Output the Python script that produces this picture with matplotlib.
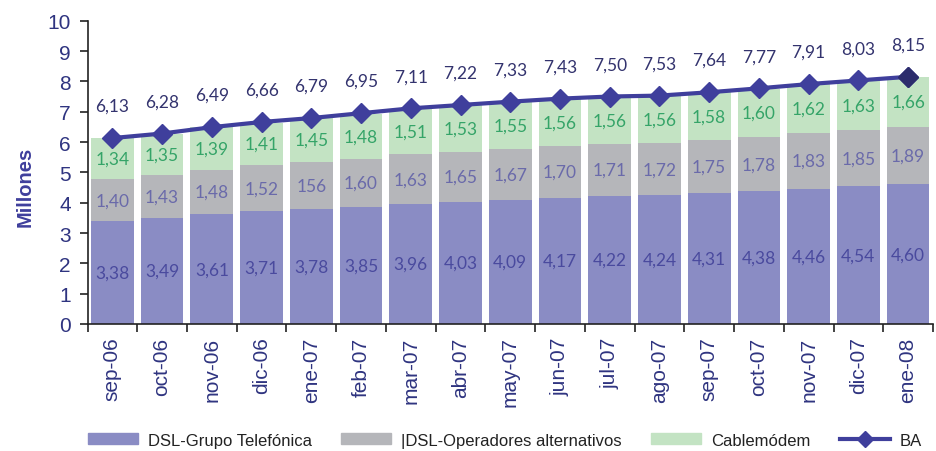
import matplotlib
matplotlib.use("Agg")
import matplotlib.pyplot as plt
import numpy as np
from matplotlib.lines import Line2D
from matplotlib.patches import Patch

categories = ["sep-06", "oct-06", "nov-06", "dic-06", "ene-07", "feb-07", "mar-07",
              "abr-07", "may-07", "jun-07", "jul-07", "ago-07", "sep-07", "oct-07",
              "nov-07", "dic-07", "ene-08"]
dsl_telefonica = [3.38, 3.49, 3.61, 3.71, 3.78, 3.85, 3.96, 4.03, 4.09, 4.17, 4.22,
                  4.24, 4.31, 4.38, 4.46, 4.54, 4.60]
dsl_alternativos = [1.40, 1.43, 1.48, 1.52, 1.56, 1.60, 1.63, 1.65, 1.67, 1.70, 1.71,
                    1.72, 1.75, 1.78, 1.83, 1.85, 1.89]
cablemodem = [1.34, 1.35, 1.39, 1.41, 1.45, 1.48, 1.51, 1.53, 1.55, 1.56, 1.56,
              1.56, 1.58, 1.60, 1.62, 1.63, 1.66]
ba = [6.13, 6.28, 6.49, 6.66, 6.79, 6.95, 7.11, 7.22, 7.33, 7.43, 7.50, 7.53, 7.64,
      7.77, 7.91, 8.03, 8.15]
# labels as printed in the original (note "156")
alt_labels = ["1,40", "1,43", "1,48", "1,52", "156", "1,60", "1,63", "1,65", "1,67",
              "1,70", "1,71", "1,72", "1,75", "1,78", "1,83", "1,85", "1,89"]
series_names = ["DSL-Grupo Telefónica", "|DSL-Operadores alternativos", "Cablemódem", "BA"]
yticks = list(range(0, 11))

C_BLUE = "#8A8CC4"
C_GRAY = "#B5B6BA"
C_GREEN = "#C3E3C3"
C_LINE = "#3F3F9C"
C_TICK = "#2F3480"

plt.rcParams["font.family"] = ["Liberation Sans", "DejaVu Sans"]

fig = plt.figure(figsize=(9.37, 4.52), dpi=100)
ax = fig.add_axes([0.0934, 0.281, 0.9023, 0.671])

x = np.arange(len(categories))
w = 0.86
b1 = np.array(dsl_telefonica)
b2 = np.array(dsl_alternativos)
b3 = np.array(cablemodem)
ax.bar(x, b1, w, color=C_BLUE, zorder=2)
ax.bar(x, b2, w, bottom=b1, color=C_GRAY, zorder=2)
ax.bar(x, b3, w, bottom=b1 + b2, color=C_GREEN, zorder=2)
ax.plot(x, ba, color=C_LINE, lw=3, marker="D", markersize=10, zorder=4)
ax.plot(x[-1:], ba[-1:], linestyle="none", marker="D", markersize=10,
        color="#2C2C6C", zorder=5)

def fmt(v):
    return f"{v:.2f}".replace(".", ",")

vfont = dict(family=["Lato", "DejaVu Sans"], fontsize=12.5, ha="center", va="center", zorder=6)
for i in x:
    ax.text(i, b1[i] / 2, fmt(b1[i]), color="#4A4A9E", **vfont)
    ax.text(i, b1[i] + b2[i] / 2, alt_labels[i], color="#6A6AAA", **vfont)
    ax.text(i, b1[i] + b2[i] + b3[i] / 2, fmt(b3[i]), color="#35A468", **vfont)
    ax.text(i, ba[i] + 1.06, fmt(ba[i]), color="#33336E", **vfont)

ax.set_xlim(-0.5, len(categories) - 0.5)
ax.set_ylim(0, 10)
ax.set_yticks(yticks)
ax.set_yticklabels([str(t) for t in yticks])
ax.set_xticks(x)
ax.set_xticklabels(categories, rotation=90)
ax.set_xticks(np.arange(len(categories) + 1) - 0.5, minor=True)
ax.tick_params(axis="x", which="major", length=0, pad=9, labelsize=15, labelcolor=C_TICK)
ax.tick_params(axis="x", which="minor", length=6, width=1.2, direction="out", color="#222222")
ax.tick_params(axis="y", length=6, width=1.2, pad=6, labelsize=15, labelcolor=C_TICK, color="#222222")
for s in ["top", "right"]:
    ax.spines[s].set_visible(False)
for s in ["left", "bottom"]:
    ax.spines[s].set_color("#222222")
    ax.spines[s].set_linewidth(1.2)

ax.set_ylabel("Millones", fontsize=14.5, fontweight="bold", color=C_LINE)
ax.yaxis.set_label_coords(-0.062, 0.455)

handles = [Patch(color=C_BLUE), Patch(color=C_GRAY), Patch(color=C_GREEN),
           Line2D([], [], color=C_LINE, lw=3, marker="D", markersize=8)]
fig.legend(handles, series_names, loc="center left", bbox_to_anchor=(0.094, 0.024),
           ncol=4, frameon=False, fontsize=12, handlelength=3.0, handleheight=0.6,
           handletextpad=0.6, columnspacing=1.75, borderpad=0, borderaxespad=0,
           labelcolor="#222222")

fig.savefig("out.png", dpi=100)
